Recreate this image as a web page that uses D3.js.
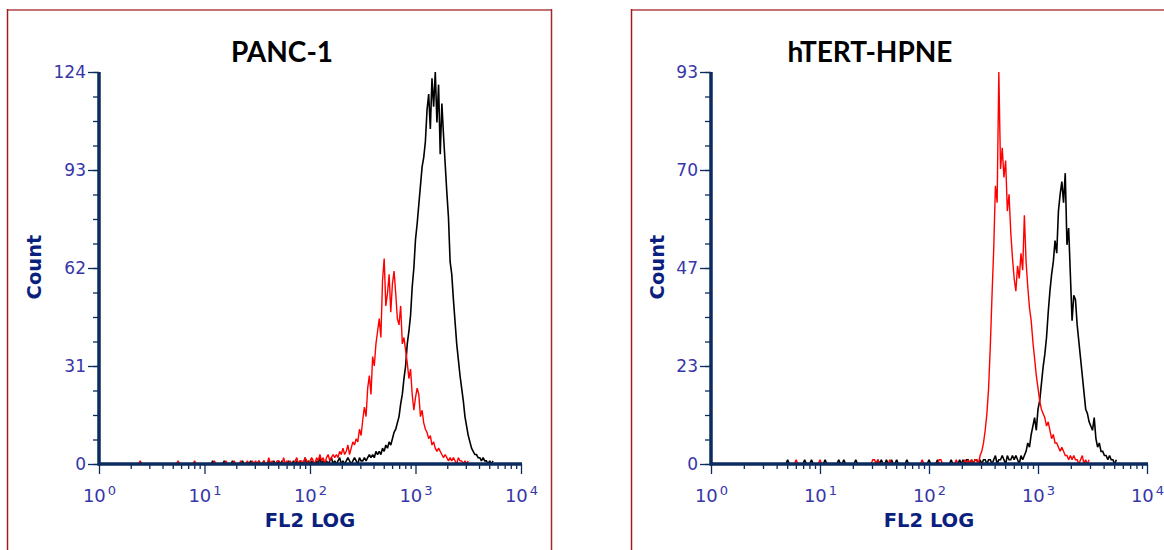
<!DOCTYPE html>
<html>
<head>
<meta charset="utf-8">
<script src="https://cdn.jsdelivr.net/npm/d3@7"></script>
<style>
  body { margin: 0; background: #fff; }
  svg { display: block; }
</style>
</head>
<body>
<svg id="chart" width="1164" height="550"></svg>
<script>
// FL2 fluorescence histograms, 64 channels per decade across 10^0 .. 10^4.
const channelsPerDecade = 64;
const xTickValues = [1, 10, 100, 1000, 10000];
const xTickExponents = ["0", "1", "2", "3", "4"];
const xAxisTitle = "FL2 LOG";
const yAxisTitle = "Count";

// PANC-1
const panc1Title = "PANC-1";
const panc1YMax = 124;
const panc1YTickLabels = ["0", "31", "62", "93", "124"];
const panc1ControlStart = 20;   // first channel of the control (red) histogram
const panc1Control = [
  0,0,0,0,0,1,0,0,0,0,0,0,0,0,0,0,0,0,0,0,
  0,0,0,0,0,0,0,0,1,0,0,0,0,0,0,0,0,0,1,0,
  0,0,0,0,0,0,0,0,0,0,1,0,0,0,0,0,0,1,0,0,
  0,0,1,0,0,0,1,0,0,0,1,0,0,1,0,1,
  0,1,0,0,1,0,0,2,0,1,0,0,1,1,0,0,2,0,1,0,1,0,0,1,2,0,1,1,0,2,1,0,
  1,2,1,0,2,1,3,1,2,0,2,3,1,2,3,2,
  3,2,4,3,5,3,4,6,3,5,7,6,
  8,7,11,9,14,18,15,24,28,22,34,31,38,42,46,40,58,65,50,54,
  60,48,57,61,54,46,44,50,38,40,36,32,27,30,22,17,21,24,22,15,
  17,13,11,10,8,9,6,7,5,4,5,4,3,2,3,2,1,2,1,2,
  1,0,2,1,1,0,1,0,1
];
const panc1StainStart = 60;     // first channel of the stained (black) histogram
const panc1Stain = [
  0,0,0,0,0,0,0,0,0,1,0,0,0,0,0,0,1,0,0,0,
  0,1,0,0,0,0,0,1,0,0,0,0,1,0,0,0,0,1,0,0,
  1,0,0,1,0,0,1,0,0,1,0,1,0,0,0,1,0,0,1,0,
  1,0,1,0,0,2,0,1,0,1,0,0,1,0,2,0,1,0,1,0,
  1,2,0,1,0,1,2,0,1,0,1,2,1,0,1,2,1,0,2,1,
  1,2,1,2,3,2,3,2,4,3,4,3,5,4,6,5,7,6,8,10,
  11,13,15,19,22,27,31,38,42,47,56,62,71,76,82,88,94,97,102,112,
  117,106,122,113,124,108,120,98,114,104,95,86,78,64,60,52,45,38,33,28,
  24,20,15,12,9,7,5,4,3,3,2,2,1,2,1,1,0,1,0,1
];

// hTERT-HPNE
const hpneTitle = "hTERT-HPNE";
const hpneYMax = 93;
const hpneYTickLabels = ["0", "23", "47", "70", "93"];
const hpneControlStart = 48;
const hpneControl = [
  0,0,1,0,0,0,0,0,0,0,0,0,0,0,0,0,1,0,0,0,
  0,0,0,0,0,0,0,0,0,0,0,0,0,0,0,0,0,0,0,0,
  0,0,0,0,0,0,0,1,1,0,1,0,0,0,0,0,0,1,0,0,
  0,0,0,0,0,0,0,0,0,0,0,0,0,0,0,0,1,0,0,0,
  0,0,0,0,0,0,1,1,0,0,0,0,0,0,0,0,1,0,0,0,0,1,
  0,1,0,1,0,1,1,0,2,3,
  5,8,12,18,28,40,51,66,62,93,
  70,75,68,72,60,64,55,49,44,41,
  47,44,50,46,59,48,42,37,34,29,
  25,21,18,15,13,12,11,9,10,8,
  6,7,5,5,4,3,4,3,2,2,
  1,2,1,2,1,1,0,1,2,0,
  1,0,1
];
const hpneStainStart = 44;
const hpneStain = [
  0,1,0,0,0,0,0,0,0,0,0,1,0,0,0,1,0,0,0,0,
  0,0,0,1,0,0,0,0,0,0,0,1,0,0,1,0,0,0,0,0,
  0,1,0,0,0,0,0,0,0,0,0,0,0,0,1,0,1,0,0,1,
  0,0,1,0,0,1,0,0,0,0,0,1,0,0,0,0,0,0,0,0,
  0,0,0,0,1,0,0,0,0,1,0,0,0,0,0,0,0,1,0,0,
  0,0,1,0,1,0,1,1,0,1,0,1,1,0,1,0,1,1,0,1,
  1,0,1,2,0,1,1,2,1,0,2,1,1,2,1,2,
  1,0,2,1,2,3,5,4,7,9,
  11,8,13,15,19,23,26,30,36,41,
  45,48,53,50,60,64,67,62,69,52,
  56,45,34,40,39,33,29,25,21,17,
  13,12,10,9,8,11,6,4,5,3,
  3,2,2,1,2,1,1,0,1
];

const svg = d3.select("#chart");

const AXIS_COLOR = "#0c2b5e";
const TICK_TEXT = "#3636a8";
const TITLE_TEXT = "#0b1f7e";

function toPoints(start, counts) {
  return counts.map((c, i) => [Math.pow(10, (start + i) / channelsPerDecade), c]);
}

function drawPanel(p) {
  // panel frame
  const frame = svg.append("g");
  frame.append("line").attr("x1", p.frameX0).attr("x2", p.frameX1)
    .attr("y1", 10).attr("y2", 10)
    .attr("stroke", "#c27474").attr("stroke-width", 2);
  frame.append("line").attr("x1", p.frameX0).attr("x2", p.frameX0)
    .attr("y1", 9).attr("y2", 550)
    .attr("stroke", "#9a1e1e").attr("stroke-width", 1.5);
  if (p.frameRight) {
    frame.append("line").attr("x1", p.frameX1).attr("x2", p.frameX1)
      .attr("y1", 9).attr("y2", 550)
      .attr("stroke", "#a42a2a").attr("stroke-width", 1.5);
  }

  const x = d3.scaleLog().domain([1, 10000]).range([p.x0, p.x1]);
  const y = d3.scaleLinear().domain([0, p.yMax]).range([p.yBot, p.yTop]);

  const line = d3.line().x(d => x(d[0])).y(d => y(d[1]));

  const g = svg.append("g");
  g.append("path").datum(toPoints(p.stainStart, p.stain))
    .attr("d", line).attr("fill", "none")
    .attr("stroke", "#000").attr("stroke-width", 1.6)
    .attr("stroke-linejoin", "miter").attr("stroke-miterlimit", 2);
  g.append("path").datum(toPoints(p.controlStart, p.control))
    .attr("d", line).attr("fill", "none")
    .attr("stroke", "#ff0000").attr("stroke-width", 1.4)
    .attr("stroke-linejoin", "miter").attr("stroke-miterlimit", 2);

  // x axis: minor ticks
  const minor = [];
  for (let d = 0; d < 4; d++) for (let k = 2; k <= 9; k++) minor.push(k * Math.pow(10, d));
  const xMinor = g.append("g").attr("transform", `translate(0,${p.yBot})`)
    .call(d3.axisBottom(x).tickValues(minor).tickSize(5).tickFormat(""));
  xMinor.select(".domain").remove();
  xMinor.selectAll("line").attr("stroke", AXIS_COLOR).attr("stroke-width", 1.3);

  // x axis: decades
  const xMajor = g.append("g").attr("transform", `translate(0,${p.yBot})`)
    .call(d3.axisBottom(x).tickValues(xTickValues).tickSize(10).tickSizeOuter(0).tickPadding(15));
  xMajor.select(".domain").attr("stroke", AXIS_COLOR).attr("stroke-width", 3.5)
    .attr("d", `M${p.x0 - 1},0H${p.x1 + 1}`);
  xMajor.selectAll("line").attr("stroke", AXIS_COLOR).attr("stroke-width", 1.3);
  xMajor.selectAll("text").each(function (d, i) {
    const t = d3.select(this);
    t.text(null)
      .attr("fill", TICK_TEXT)
      .attr("font-family", "DejaVu Sans, sans-serif")
      .attr("font-size", 18);
    t.append("tspan").text("10");
    t.append("tspan").attr("dy", "-0.5em").attr("dx", "2").attr("font-size", 13).text(xTickExponents[i]);
  });

  // y axis: minor ticks
  const yMinor = g.append("g").attr("transform", `translate(${p.x0},0)`)
    .call(d3.axisLeft(y).tickValues(d3.range(17).map(i => i * p.yMax / 16)).tickSize(6).tickFormat(""));
  yMinor.select(".domain").remove();
  yMinor.selectAll("line").attr("stroke", AXIS_COLOR).attr("stroke-width", 1.3);

  // y axis: labelled ticks
  const yMajor = g.append("g").attr("transform", `translate(${p.x0},0)`)
    .call(d3.axisLeft(y).tickValues(d3.range(5).map(i => i * p.yMax / 4))
      .tickSize(11).tickSizeOuter(0).tickPadding(2)
      .tickFormat((d, i) => p.yTickLabels[i]));
  yMajor.select(".domain").attr("stroke", AXIS_COLOR).attr("stroke-width", 3.5)
    .attr("d", `M0,${p.yTop}V${p.yBot + 1.5}`);
  yMajor.selectAll("line").attr("stroke", AXIS_COLOR).attr("stroke-width", 1.3);
  yMajor.selectAll("text")
    .attr("fill", TICK_TEXT)
    .attr("font-family", "DejaVu Sans, sans-serif")
    .attr("font-size", 17);

  // axis titles
  g.append("text")
    .attr("x", (p.x0 + p.x1) / 2).attr("y", 527)
    .attr("text-anchor", "middle")
    .attr("font-family", "DejaVu Sans, sans-serif")
    .attr("font-weight", "bold").attr("font-size", 19.5)
    .attr("fill", TITLE_TEXT)
    .text(xAxisTitle);
  g.append("text")
    .attr("transform", `translate(${p.countX},267) rotate(-90)`)
    .attr("text-anchor", "middle")
    .attr("font-family", "DejaVu Sans, sans-serif")
    .attr("font-weight", "bold").attr("font-size", 19.5)
    .attr("fill", TITLE_TEXT)
    .text(yAxisTitle);

  // panel title
  g.append("text")
    .attr("x", p.titleX).attr("y", 62)
    .attr("text-anchor", "middle")
    .attr("font-family", "Lato, 'Open Sans', sans-serif")
    .attr("font-weight", "bold").attr("font-size", 28)
    .attr("fill", "#000")
    .text(p.title);
}

drawPanel({
  title: panc1Title, titleX: 282,
  frameX0: 7.5, frameX1: 551.5, frameRight: true,
  x0: 99, x1: 521, yTop: 72, yBot: 464, countX: 41,
  yMax: panc1YMax, yTickLabels: panc1YTickLabels,
  controlStart: panc1ControlStart, control: panc1Control,
  stainStart: panc1StainStart, stain: panc1Stain
});

drawPanel({
  title: hpneTitle, titleX: 870,
  frameX0: 631.5, frameX1: 1170, frameRight: false,
  x0: 711, x1: 1147, yTop: 72, yBot: 464, countX: 664,
  yMax: hpneYMax, yTickLabels: hpneYTickLabels,
  controlStart: hpneControlStart, control: hpneControl,
  stainStart: hpneStainStart, stain: hpneStain
});
</script>
</body>
</html>
